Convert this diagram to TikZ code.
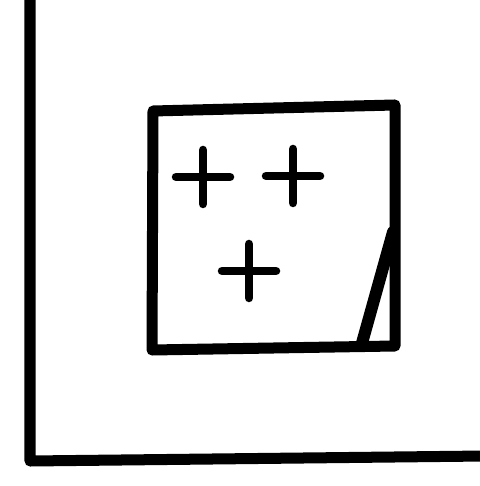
\documentclass[tikz,border=0pt]{standalone}
\usepackage{tikz}
\usetikzlibrary{positioning}

\begin{document}
\begin{tikzpicture}[x=0.01cm, y=-0.01cm,
    frame/.style={line width=0.11cm, line cap=round, line join=round},
    plusmark/.style={line width=0.085cm, line cap=round}]
    \useasboundingbox (0,0) rectangle (479,486);

    % Outer frame (left and bottom edges)
    \draw[frame] (30,-5) -- (30,461) -- (485,456);

    % Inner square
    \coordinate (tl) at (153,111);
    \coordinate (tr) at (395,105);
    \coordinate (br) at (395,346);
    \coordinate (bl) at (152,350);
    \draw[frame] (tl) -- (tr) -- (br) -- (bl) -- cycle;

    % Slanted cut in the corner
    \coordinate (cutlow) at (362,343);
    \coordinate (cuthigh) at (393,232);
    \draw[frame, line width=0.12cm] (cutlow) -- (cuthigh);

    % Plus signs
    \foreach \x/\y in {203/177, 293/176, 249/271}
        \draw[plusmark] (\x-27,\y) -- (\x+27,\y) (\x,\y-27) -- (\x,\y+27);
\end{tikzpicture}
\end{document}
